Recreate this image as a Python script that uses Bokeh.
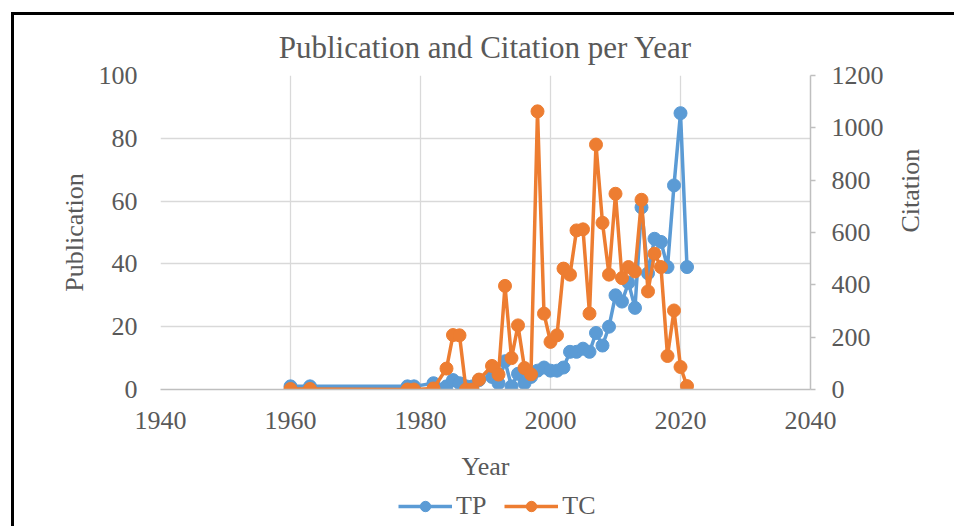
import math
from bokeh.plotting import figure
from bokeh.layouts import column
from bokeh.models import (Range1d, LinearAxis, SingleIntervalTicker, Legend, LegendItem,
                          ColumnDataSource)
from bokeh.embed import file_html
from bokeh.resources import INLINE

years = [1960, 1963, 1978, 1979, 1982, 1984, 1985, 1986, 1987, 1988, 1989, 1991, 1992,
         1993, 1994, 1995, 1996, 1997, 1998, 1999, 2000, 2001, 2002, 2003, 2004, 2005,
         2006, 2007, 2008, 2009, 2010, 2011, 2012, 2013, 2014, 2015, 2016, 2017, 2018,
         2019, 2020, 2021]
tp = [1, 1, 1, 1, 2, 1, 3, 2, 1, 1, 3, 4, 2,
      9, 1, 5, 2, 4, 6, 7, 6, 6, 7, 12, 12, 13,
      12, 18, 14, 20, 30, 28, 34, 26, 58, 37, 48, 47, 39,
      65, 88, 39]
tc = [2, 2, 0, 0, 4, 80, 208, 207, 0, 0, 38, 90, 57,
      396, 120, 245, 82, 58, 1063, 290, 182, 207, 462, 439, 608, 612,
      290, 936, 637, 439, 748, 426, 468, 451, 725, 375, 519, 468, 128,
      302, 86, 13]
series_names = ["TP", "TC"]

FONT = "Liberation Serif"
TXT = "#595959"
BLUE = "#5B9BD5"
ORANGE = "#ED7D31"
GRID = "#D9D9D9"
W = 940

src = ColumnDataSource(dict(year=years, tp=tp, tc=tc))

p = figure(width=W, height=471, output_backend="svg", toolbar_location=None,
           x_range=Range1d(1940, 2040), y_range=Range1d(0, 100),
           min_border_left=146, min_border_right=W - 146 - 650, min_border_top=60,
           min_border_bottom=97,
           title="Publication and Citation per Year")
p.extra_y_ranges = {"cit": Range1d(0, 1200)}
p.outline_line_color = None
p.background_fill_color = "white"
p.border_fill_color = "white"

p.title.align = "center"
p.title.vertical_align = "bottom"
p.title.text_font = FONT
p.title.text_font_size = "31px"
p.title.text_font_style = "normal"
p.title.text_color = TXT
p.title.standoff = 22

# grids
p.xgrid.ticker = SingleIntervalTicker(interval=20)
p.ygrid.ticker = SingleIntervalTicker(interval=20)
for g in (p.xgrid, p.ygrid):
    g.grid_line_color = GRID
    g.grid_line_width = 1.3

# bottom axis
xa = p.xaxis[0]
xa.ticker = SingleIntervalTicker(interval=20)
xa.axis_line_color = "#BFBFBF"
xa.axis_line_width = 1.5
xa.major_tick_line_color = None
xa.minor_tick_line_color = None
xa.major_tick_out = 0
xa.major_tick_in = 0
xa.major_label_standoff = 18
xa.axis_label = "Year"
xa.axis_label_standoff = 20

# left axis
ya = p.yaxis[0]
ya.ticker = SingleIntervalTicker(interval=20)
ya.axis_line_color = None
ya.major_tick_line_color = None
ya.minor_tick_line_color = None
ya.major_tick_out = 0
ya.major_tick_in = 0
ya.major_label_standoff = 19
ya.axis_label = "Publication"
ya.axis_label_standoff = 7

# right axis
ra = LinearAxis(y_range_name="cit", ticker=SingleIntervalTicker(interval=200))
ra.axis_line_color = "#BFBFBF"
ra.axis_line_width = 1.5
ra.major_tick_line_color = "#BFBFBF"
ra.major_tick_line_width = 1.5
ra.major_tick_out = 5
ra.major_tick_in = 0
ra.minor_tick_line_color = None
ra.major_label_standoff = 16
ra.axis_label = "Citation"
ra.axis_label_standoff = 24
ra.axis_label_orientation = math.pi / 2
p.add_layout(ra, "right")

for ax in (xa, ya, ra):
    ax.major_label_text_font = FONT
    ax.major_label_text_font_size = "26px"
    ax.major_label_text_color = TXT
    ax.axis_label_text_font = FONT
    ax.axis_label_text_font_size = "26px"
    ax.axis_label_text_font_style = "normal"
    ax.axis_label_text_color = TXT

# series
p.line("year", "tp", source=src, line_color=BLUE, line_width=3.5)
p.scatter("year", "tp", source=src, size=13, fill_color=BLUE, line_color=BLUE)
p.line("year", "tc", source=src, line_color=ORANGE, line_width=3.5, y_range_name="cit")
p.scatter("year", "tc", source=src, size=13, fill_color=ORANGE, line_color=ORANGE,
          y_range_name="cit")

# legend strip below the chart (its renderers use the same data, outside its view)
lp = figure(width=W, height=40, output_backend="svg", toolbar_location=None,
            x_axis_type=None, y_axis_type=None, min_border=0,
            x_range=Range1d(0, 1), y_range=Range1d(0, 1))
lp.outline_line_color = None
lp.xgrid.visible = False
lp.ygrid.visible = False
items = []
for name, col, field in zip(series_names, (BLUE, ORANGE), ("tp", "tc")):
    rl = lp.line("year", field, source=src, line_color=col, line_width=3.5)
    rs = lp.scatter("year", field, source=src, size=15, fill_color=col, line_color=col)
    items.append(LegendItem(label=name, renderers=[rl, rs]))
legend = Legend(items=items, orientation="horizontal", location=(238, 5))
legend.label_text_font = FONT
legend.label_text_font_size = "26px"
legend.label_text_color = TXT
legend.glyph_width = 54
legend.glyph_height = 26
legend.label_standoff = 4
legend.spacing = 18
legend.padding = 0
legend.margin = 0
legend.border_line_color = None
legend.background_fill_alpha = 0
lp.add_layout(legend)

layout = column(p, lp, spacing=0,
                styles={"margin-left": "11px", "margin-top": "12px",
                        "border-left": "3px solid black", "border-top": "3px solid black"})

open("out.html", "w").write(file_html(layout, INLINE))
